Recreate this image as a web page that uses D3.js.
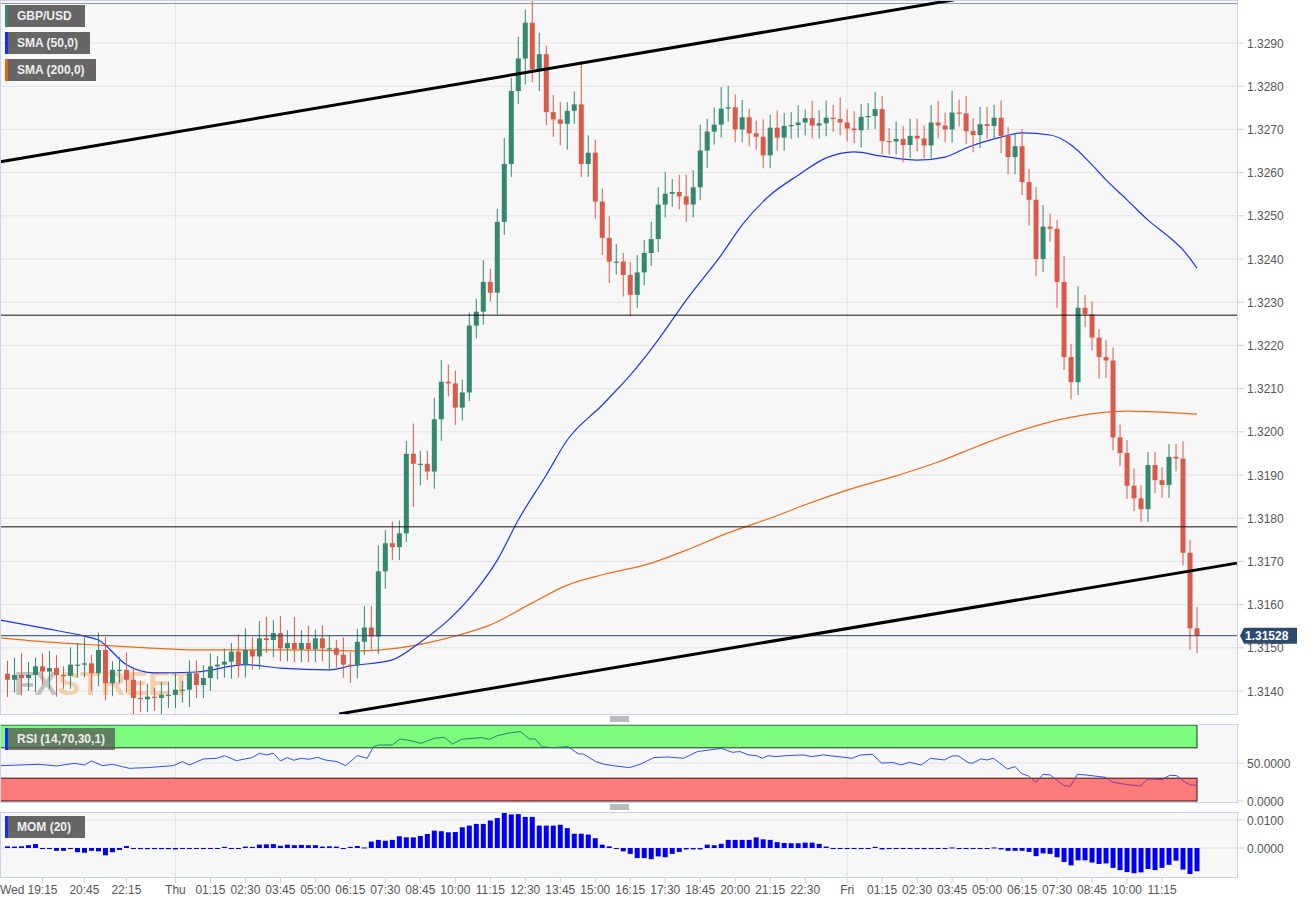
<!DOCTYPE html>
<html><head><meta charset="utf-8">
<script src="https://cdn.jsdelivr.net/npm/d3@7"></script>
<style>body{margin:0;background:#fff;font-family:"Liberation Sans",Arial,sans-serif}</style>
</head><body><svg id="c" width="1311" height="902"></svg>
<script>
const closes=[1.31426,1.31437,1.31430,1.31437,1.31457,1.31445,1.31453,1.31437,1.31435,1.31461,1.31461,1.31464,1.31441,1.31495,1.31418,1.31449,1.31449,1.31426,1.31384,1.31381,1.31387,1.31384,1.31391,1.31391,1.31403,1.31403,1.31441,1.31414,1.3143,1.31457,1.31461,1.31468,1.31491,1.31461,1.31495,1.3148,1.31522,1.31518,1.31534,1.31499,1.31511,1.31497,1.31511,1.31497,1.31522,1.31499,1.31499,1.31484,1.31461,
1.31459,1.31514,1.31547,1.31526,1.31677,1.31742,1.31733,1.31765,1.31949,1.31926,1.31926,1.31908,1.32029,1.32116,1.32112,1.32056,1.32091,1.32246,1.32278,1.32347,1.32322,1.32486,1.32620,1.32789,1.32864,1.32947,1.32839,1.32874,1.32740,1.32723,1.32713,1.32743,1.32758,1.32620,1.32646,1.32533,1.32449,
1.32394,1.32394,1.32363,1.32317,1.32369,1.32414,1.32446,1.32526,1.32551,1.32555,1.32545,1.32526,1.32566,1.32651,1.32695,1.32711,1.32748,1.32751,1.32700,1.32728,1.32691,1.32683,1.32640,1.32704,1.32681,1.32708,1.32710,1.32716,1.32726,1.32709,1.32714,1.32727,1.32724,1.32716,1.32702,1.32698,1.32729,1.32731,1.32747,1.32673,1.32672,1.32678,1.32664,1.32685,1.32679,1.32663,1.32716,1.32709,1.32700,1.32739,1.32737,1.32696,1.32687,1.32712,1.32708,1.32727,
1.32685,1.32636,1.32661,1.32578,1.32537,1.32400,1.32475,1.32470,1.32347,1.32173,1.32115,1.32287,1.32272,1.32218,1.32173,1.32165,1.31987,1.31951,1.31875,1.31846,1.31821,1.31923,1.31888,1.31877,1.31942,1.31938,1.31720,1.31545,1.31528];
const firstOpen=1.31440;
const wickUp=[3,4,5,3,2,3,4,3,2,4,5,6,2,4,3,2,3,4,3,4,3,2,3,3,4,2,3,3,3,3,2,3,2,4,5,3,4,5,3,4,3,6,3,4,2,3,3,2,4,3,3,5,5,6,3,5,3,3,7,3,3,5,5,4,3,3,3,3,5,3,3,6,3,5,3,8,5,2,4,4,2,3,10,4,3,3,5,4,2,3,4,3,4,4,5,3,4,5,4,6,3,4,5,5,3,4,2,3,4,3,4,3,3,4,2,4,3,4,3,5,3,4,3,3,4,3,3,4,3,4,4,3,4,5,3,5,3,4,3,4,4,3,4,2,3,4,3,3,5,3,2,6,3,5,3,3,2,4,3,3,3,4,3,3,3,3,3,3,4,3,5];
const wickDn=[4,3,4,3,4,3,4,5,3,3,3,3,4,3,4,3,3,3,4,3,3,3,4,3,3,3,4,3,3,3,3,3,4,3,3,3,3,3,4,3,3,3,3,3,3,3,5,3,3,4,3,3,3,4,4,3,3,2,10,5,2,4,5,3,4,3,2,3,3,2,5,3,3,3,6,3,5,3,4,5,6,3,3,3,4,4,5,3,5,5,3,3,3,3,3,3,3,4,3,3,4,3,3,3,3,3,3,3,3,3,3,3,3,3,3,3,3,3,3,3,3,3,4,3,3,3,3,3,4,3,3,3,3,3,3,3,3,3,4,3,3,3,4,4,4,3,6,4,3,3,6,3,4,3,3,3,5,4,3,3,3,3,3,3,3,3,3,3,3,5,4];
const sma50=[[-1,1.31564],[5,1.31546],[11,1.31527],[13,1.31518],[17,1.31461],[21,1.31442],[27,1.31444],[34,1.31461],[39,1.31453],[46,1.31449],[49,1.31458],[55,1.31472],[59,1.31513],[63,1.31564],[67,1.31634],[70,1.31703],[73,1.31796],[77,1.31900],[80,1.31981],[85,1.32062],[89,1.32131],[93,1.32213],[97,1.32305],[102,1.32409],[105,1.32479],[109,1.32548],[113,1.32594],[117,1.32634],[121,1.32648],[125,1.32638],[130,1.32629],[134,1.32636],[137,1.32657],[142,1.32682],[145,1.32692],[149,1.32687],[152,1.32664],[155,1.32618],[157,1.32583],[160,1.32537],[163,1.32490],[166,1.32451],[168,1.32421],[170,1.32379]];
const sma200=[[-1,1.31523],[6,1.31513],[13,1.31506],[20,1.31500],[27,1.31495],[41,1.31495],[50,1.31493],[56,1.31500],[63,1.31523],[69,1.31553],[75,1.31604],[80,1.31645],[85,1.31669],[92,1.31696],[97,1.31726],[103,1.31766],[109,1.31800],[114,1.31831],[120,1.31865],[127,1.31898],[133,1.31930],[139,1.31969],[145,1.32004],[150,1.32027],[156,1.32044],[160,1.32048],[164,1.32046],[170,1.32041]];
const rsi=[[-1,46.5],[4.5,48.3],[7,46.1],[9.6,49.6],[11,47.4],[12,52.7],[13.6,46.5],[15,48.3],[17.4,43],[20,43.9],[23.7,46.5],[25,51.8],[26,47.4],[28,55.3],[29.9,56.2],[31,59.7],[32.7,53.1],[35,57.1],[36,62.8],[37,60.6],[38,62.8],[39,52.7],[40,57.1],[40.9,53.6],[42,56.2],[43.1,54.9],[44.3,57.5],[45.4,54],[47.1,51.8],[48.3,46.5],[50,59.7],[51.4,56.2],[52.3,71.5],[53,73.7],[55,73.7],[56.1,81.6],[57.6,79.4],[59.1,75.9],[61,82.5],[62.4,83.8],[63.6,75],[64.9,81.2],[67.7,83.4],[68.9,81.2],[70,86],[71.7,89.5],[73.3,91.3],[74.6,81.6],[75.4,81.6],[76.4,71.5],[77.9,70.2],[80.1,71.5],[81.6,61.9],[82.3,61.9],[84.1,51.8],[85.3,48.3],[86.6,46.5],[88.9,43.9],[90.4,48.3],[92.4,57.1],[94.4,57.9],[96.6,56.2],[98.6,65],[102,69.3],[103.6,64.1],[104.7,65],[105.9,60.6],[107,59.7],[107.9,56.2],[108.7,59.7],[109.7,58.4],[111.4,59.7],[113.7,60.6],[114.9,58.4],[116.6,60.6],[118.7,58.4],[120.7,56.2],[121.9,60.6],[123.6,61.4],[124.9,50],[126.6,50.5],[127.7,47.4],[128.9,50.9],[130.6,47.4],[131.9,56.2],[133.9,54],[135,59.3],[135.9,59.3],[137.3,50.5],[137.9,49.6],[139.1,55.3],[140,54],[140.9,56.2],[142.9,42.1],[144,45.2],[144.9,36.4],[145.9,32.9],[147,24.6],[148,35.1],[149,34.3],[151,20.2],[151.9,19.3],[152.9,35.1],[154,34.3],[156.9,31.2],[158,24.6],[160.4,21.1],[161.9,19.8],[163,29],[165,28.1],[166.1,33.8],[167.1,33.4],[168.3,24.6],[169.1,21.1],[170,20.7]];
const momPips=[6,5,6,10,14,0,-2,-10,-10,-2,-15,-17,-10,-12,-26,-15,-7,7,0,-4,-4,-4,-4,-4,-5,0,0,0,0,0,0,4,-2,0,5,4,12,13,14,8,12,10,11,10,10,5,6,5,0,4,7,2,23,29,26,29,42,38,38,43,50,62,60,56,57,74,80,86,86,98,107,126,120,121,111,111,80,80,80,83,71,51,51,48,35,
12,6,0,-12,-21,-36,-36,-40,-30,-33,-21,-14,-5,-5,-5,12,10,15,29,29,29,29,38,31,29,21,18,17,17,19,19,15,5,0,0,0,0,0,0,4,-5,0,0,0,-2,0,-4,0,0,0,2,0,-2,-2,0,0,2,-5,-10,-10,-10,-14,-29,-19,-21,-33,-50,-62,-44,-44,-52,-57,-55,-71,-79,-86,-90,-87,-75,-79,-71,-60,-45,-77,-93,-83];
const priceTicks=[1.3140,1.3150,1.3160,1.3170,1.3180,1.3190,1.3200,1.3210,1.3220,1.3230,1.3240,1.3250,1.3260,1.3270,1.3280,1.3290];
const timeLabels=[[-1,"Wed"],[5,"19:15"],[11,"20:45"],[17,"22:15"],[24,"Thu"],[29,"01:15"],[34,"02:30"],[39,"03:45"],[44,"05:00"],[49,"06:15"],[54,"07:30"],[59,"08:45"],[64,"10:00"],[69,"11:15"],[74,"12:30"],[79,"13:45"],[84,"15:00"],[89,"16:15"],[94,"17:30"],[99,"18:45"],[104,"20:00"],[109,"21:15"],[114,"22:30"],[120,"Fri"],[125,"01:15"],[130,"02:30"],[135,"03:45"],[140,"05:00"],[145,"06:15"],[150,"07:30"],[155,"08:45"],[160,"10:00"],[165,"11:15"]];
const dayIdx=[24,120];
const hLevels=[1.3227,1.3178];
const trendlines=[[[-1,1.32625],[135.3,1.3300]],[[47.4,1.31347],[175.7,1.31696]]];
const lastPrice=1.31528;

const svg=d3.select("#c");
const N=closes.length;
const L=0,R=1238;
const x=d3.scaleLinear().domain([0,N-1]).range([7.5,1197]);
const y=d3.scaleLinear().domain([1.3140,1.3290]).range([691,43]);
const yR=d3.scaleLinear().domain([0,100]).range([801,725]);
const yM=d3.scaleLinear().domain([0,0.01]).range([848,820]);
const panels=[[0,714],[724,802],[812,877]];
const gridC="#e4e4e4",bord="#c9d1e3",txt="#555";
panels.forEach(p=>svg.append("rect").attr("x",L).attr("y",p[0]).attr("width",R-L).attr("height",p[1]-p[0]).attr("fill","#f7f7f7"));
const gMain=svg.append("g");
priceTicks.forEach(t=>gMain.append("line").attr("x1",L).attr("x2",R).attr("y1",y(t)).attr("y2",y(t)).attr("stroke",gridC));
[50].forEach(t=>svg.append("line").attr("x1",L).attr("x2",R).attr("y1",yR(t)).attr("y2",yR(t)).attr("stroke",gridC));
[0.01,0].forEach(t=>svg.append("line").attr("x1",L).attr("x2",R).attr("y1",yM(t)).attr("y2",yM(t)).attr("stroke",gridC));
panels.forEach(p=>dayIdx.forEach(d=>svg.append("line").attr("x1",x(d)).attr("x2",x(d)).attr("y1",p[0]).attr("y2",p[1]).attr("stroke",gridC)));
const wm=svg.append("text").attr("x",14).attr("y",695).attr("font-size",34).attr("font-weight","bold").attr("font-family","Liberation Sans Narrow,Liberation Sans,sans-serif").attr("opacity",0.55);
wm.append("tspan").attr("fill","#999").text("FX");wm.append("tspan").attr("fill","#f0b070").text("STREET");
svg.append("line").attr("x1",L).attr("x2",R).attr("y1",3.5).attr("y2",3.5).attr("stroke","#999");
const ln=d3.line().x(d=>x(d[0])).y(d=>y(d[1])).curve(d3.curveMonotoneX);
svg.append("path").attr("d",ln(sma200)).attr("fill","none").attr("stroke","#f06a10").attr("stroke-width",1.2);
svg.append("path").attr("d",ln(sma50)).attr("fill","none").attr("stroke","#1a35f0").attr("stroke-width",1.2);
const opens=closes.map((c,i)=>i?closes[i-1]:firstOpen);
const cg=svg.append("g");
closes.forEach((c,i)=>{
  const o=opens[i],up=c>=o,col=up?"#36876f":"#d95a48";
  const hi=Math.max(o,c)+wickUp[i]/10000,lo=Math.min(o,c)-wickDn[i]/10000;
  cg.append("line").attr("x1",x(i)).attr("x2",x(i)).attr("y1",y(hi)).attr("y2",y(lo)).attr("stroke",col);
  const t=y(Math.max(o,c)),b=y(Math.min(o,c));
  cg.append("rect").attr("x",x(i)-2.5).attr("width",5).attr("y",t).attr("height",Math.max(1.2,b-t)).attr("fill",col);
});
hLevels.forEach(h=>svg.append("line").attr("x1",L).attr("x2",R).attr("y1",y(h)).attr("y2",y(h)).attr("stroke","#111"));
svg.append("line").attr("x1",L).attr("x2",R).attr("y1",y(lastPrice)).attr("y2",y(lastPrice)).attr("stroke","#2b4566");
svg.append("clipPath").attr("id","mc").append("rect").attr("x",L).attr("y",0).attr("width",R-L).attr("height",714);
trendlines.forEach(t=>svg.append("line").attr("clip-path","url(#mc)").attr("x1",x(t[0][0])).attr("y1",y(t[0][1])).attr("x2",x(t[1][0])).attr("y2",y(t[1][1])).attr("stroke","#000").attr("stroke-width",3));
// RSI
const bx=x(N-1);
svg.append("rect").attr("x",L).attr("y",yR(100)).attr("width",bx-L).attr("height",yR(70)-yR(100)).attr("fill","#7dfb7d").attr("stroke","#1a3a1a");
svg.append("rect").attr("x",L).attr("y",yR(30)).attr("width",bx-L).attr("height",yR(0)-yR(30)).attr("fill","#fb7b7b").attr("stroke","#3a1010");
svg.append("clipPath").attr("id","rmid").append("rect").attr("x",0).attr("y",yR(70)).attr("width",R).attr("height",yR(30)-yR(70));
svg.append("clipPath").attr("id","rhi").append("rect").attr("x",0).attr("y",yR(100)).attr("width",R).attr("height",yR(70)-yR(100));
svg.append("clipPath").attr("id","rlo").append("rect").attr("x",0).attr("y",yR(30)).attr("width",R).attr("height",yR(0)-yR(30));
const lr=d3.line().x(d=>x(d[0])).y(d=>yR(d[1]));
[["rmid","#2d4ef0"],["rhi","#2a8070"],["rlo","#8a3a9a"]].forEach(c=>svg.append("path").attr("clip-path",`url(#${c[0]})`).attr("d",lr(rsi)).attr("fill","none").attr("stroke",c[1]).attr("stroke-width",1));
// MOM
momPips.forEach((m,i)=>{const v=m/10000;svg.append("rect").attr("x",x(i)-2.5).attr("width",5).attr("y",yM(Math.max(0,v))).attr("height",Math.max(1,Math.abs(yM(v)-yM(0)))).attr("fill","#0000f5");});
panels.forEach(p=>svg.append("rect").attr("x",L+0.5).attr("y",p[0]+0.5).attr("width",R-L-1).attr("height",p[1]-p[0]).attr("fill","none").attr("stroke",bord));
const ax=svg.append("g").attr("font-size",12).attr("fill",txt);
function rlab(yy,t){svg.append("line").attr("x1",R).attr("x2",R+6).attr("y1",yy).attr("y2",yy).attr("stroke",bord);
 ax.append("text").attr("x",R+9).attr("y",yy+4.5).text(t);}
priceTicks.forEach(t=>rlab(y(t),t.toFixed(4)));
rlab(yR(50),"50.0000");rlab(yR(0),"0.0000");rlab(yM(0.01),"0.0100");rlab(yM(0),"0.0000");
const py=y(lastPrice);
svg.append("path").attr("d",`M${R+2},${py} L${R+6},${py-8} H1297 V${py+8} H${R+6} Z`).attr("fill","#2b4a6f");
svg.append("text").attr("x",1245).attr("y",py+4.5).attr("font-size",12).attr("font-weight","bold").attr("fill","#fff").text(lastPrice.toFixed(5));
timeLabels.forEach(d=>{const xx=x(d[0]);const w=d[1]==="Wed";
 if(!w)svg.append("line").attr("x1",xx).attr("x2",xx).attr("y1",877).attr("y2",883).attr("stroke",bord);
 svg.append("text").attr("x",w?0:xx).attr("y",894).attr("text-anchor",w?"start":"middle").attr("font-size",12).attr("fill",txt).text(d[1]);});
function leg(yy,w,col,t,op){svg.append("rect").attr("x",5).attr("y",yy).attr("width",w).attr("height",22).attr("fill","#555").attr("opacity",op);
 svg.append("rect").attr("x",5).attr("y",yy).attr("width",3).attr("height",22).attr("fill",col);
 svg.append("text").attr("x",17).attr("y",yy+15).attr("font-size",12).attr("font-weight","bold").attr("fill","#eee").text(t);}
leg(5,80,"#3a8a70","GBP/USD",0.9);leg(32,85,"#1030f0","SMA (50,0)",0.9);leg(59,91,"#f06010","SMA (200,0)",0.9);
leg(728,110,"#1030f0","RSI (14,70,30,1)",0.75);leg(816,80,"#1030f0","MOM (20)",0.9);
[717,805].forEach(hy=>[0,2,4].forEach(k=>svg.append("line").attr("x1",610).attr("x2",629).attr("y1",hy+k).attr("y2",hy+k).attr("stroke","#777")));
</script></body></html>
